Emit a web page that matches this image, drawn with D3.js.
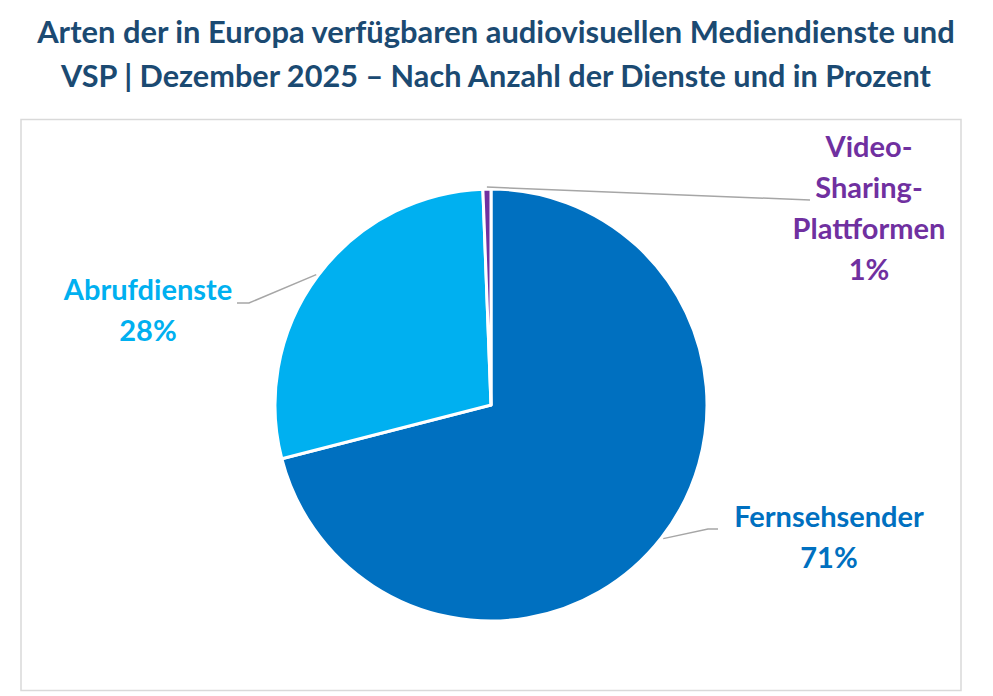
<!DOCTYPE html>
<html>
<head>
<meta charset="utf-8">
<script src="https://cdn.jsdelivr.net/npm/d3@7"></script>
<style>
  body { margin: 0; background: #fff; }
  text { font-family: Lato, "Noto Sans", sans-serif; font-weight: bold; }
</style>
</head>
<body>
<div id="chart"></div>
<script>
// data
const categories = ["Fernsehsender", "Abrufdienste", "Video-Sharing-Plattformen"];
const shares = [71.0, 28.4, 0.6];
const percentLabels = ["71%", "28%", "1%"];
const labelLines = [["Fernsehsender"], ["Abrufdienste"], ["Video-", "Sharing-", "Plattformen"]];
const titleLines = [
  "Arten der in Europa verfügbaren audiovisuellen Mediendienste und",
  "VSP | Dezember 2025 \u2013 Nach Anzahl der Dienste und in Prozent"
];

const width = 993, height = 696;
const cx = 491, cy = 405, radius = 216;

const color = d3.scaleOrdinal()
  .domain(categories)
  .range(["#0070C0", "#00B0F0", "#7030A0"]);

const svg = d3.select("#chart")
  .append("svg")
  .attr("width", width)
  .attr("height", height);

// title, fitted to the width of the original lines
const titleWidths = [918, 870];
titleLines.forEach((t, i) => {
  const txt = svg.append("text")
    .attr("x", 496)
    .attr("y", 43 + i * 44)
    .attr("text-anchor", "middle")
    .attr("fill", "#1B4A72")
    .style("font-size", "28px")
    .text(t);
  const w = txt.node().getComputedTextLength();
  txt.style("font-size", (28 * titleWidths[i] / w).toFixed(2) + "px");
});

// chart frame
svg.append("rect")
  .attr("x", 21)
  .attr("y", 119.5)
  .attr("width", 940)
  .attr("height", 571)
  .attr("fill", "none")
  .attr("stroke", "#d9d9d9")
  .attr("stroke-width", 1.5);

const pie = d3.pie().sort(null).value(d => d.value);
const arcs = pie(categories.map((c, i) => ({key: c, value: shares[i]})));

const arc = d3.arc().innerRadius(0).outerRadius(radius);

const g = svg.append("g").attr("transform", `translate(${cx},${cy})`);

g.selectAll(".slice")
  .data(arcs)
  .enter()
  .append("path")
  .attr("class", "slice")
  .attr("d", arc)
  .attr("fill", d => color(d.data.key))
  .attr("stroke", "#fff")
  .attr("stroke-width", 3)
  .attr("stroke-linejoin", "round");

// label layout (absolute page positions)
const labelLayout = [
  {x: 829, y: 527, elbow: [708, 529], end: [718, 529]},
  {x: 148, y: 300, elbow: [249, 303], end: [237, 303]},
  {x: 869, y: 157, elbow: [810, 200], end: [810, 200]}
];

arcs.forEach((d, i) => {
  const mid = (d.startAngle + d.endAngle) / 2;
  const p0 = [cx + Math.sin(mid) * (radius + 2), cy - Math.cos(mid) * (radius + 2)];
  const L = labelLayout[i];
  svg.append("path")
    .attr("d", d3.line()([p0, L.elbow, L.end]))
    .attr("fill", "none")
    .attr("stroke", "#a6a6a6")
    .attr("stroke-width", 1.5);

  const lines = labelLines[i].concat([percentLabels[i]]);
  const t = svg.append("text")
    .attr("text-anchor", "middle")
    .attr("fill", color(d.data.key))
    .style("font-size", "29px");
  lines.forEach((s, j) => {
    t.append("tspan")
      .attr("x", L.x)
      .attr("y", L.y + j * 41)
      .text(s);
  });
});
</script>
</body>
</html>
